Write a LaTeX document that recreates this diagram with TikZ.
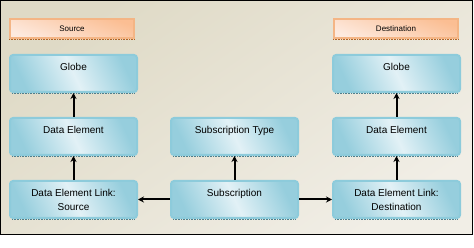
\documentclass[tikz,border=0pt]{standalone}
\usepackage{fontspec}
\setmainfont{Liberation Sans}
\usetikzlibrary{arrows.meta}

\definecolor{bgdark}{HTML}{DFDAC6}
\definecolor{bgpale}{HTML}{F1EEE6}
\definecolor{boxdark}{HTML}{96CEDD}
\definecolor{boxlight}{HTML}{E2F1F6}
\definecolor{boxline}{HTML}{8DCBDB}
\definecolor{boxdots}{HTML}{4F7F8C}
\definecolor{tagdark}{HTML}{FBBE93}
\definecolor{taglight}{HTML}{FDEADF}
\definecolor{tagline}{HTML}{F4B585}
\definecolor{tagdots}{HTML}{B06428}

\begin{document}
\begin{tikzpicture}[
    x=1pt, y=-1pt,
    entity/.style={draw=boxline, rounded corners=3pt, minimum width=127pt,
        minimum height=37pt, inner ysep=0pt, text height=8pt, text depth=13pt,
        align=center, font=\fontsize{10}{14}\selectfont,
        top color=boxdark, bottom color=boxdark, middle color=boxlight,
        shading angle=-65},
    link/.style={entity, text height=22pt, text depth=0pt},
    tag/.style={draw=tagline, minimum width=124pt, minimum height=19pt,
        inner sep=0pt, font=\fontsize{8}{10}\selectfont,
        top color=tagdark, bottom color=taglight, shading angle=-20},
    >={Stealth[length=6pt,width=6pt]}, line width=2pt
]
\useasboundingbox (0,0) rectangle (474,248);
\shade[top color=bgdark, bottom color=bgpale, shading angle=35] (0,0) rectangle (473,235);
\draw[line width=1pt] (0.5,0.5) rectangle (472.5,234.5);

\node[tag] (srctag) at (72,28.5) {Source};
\node[tag] (dsttag) at (396,28.5) {Destination};

\node[entity] (globeL) at (73.5,73.5) {Globe};
\node[entity] (elemL) at (73.5,136.5) {Data Element};
\node[link] (linkL) at (73.5,199.5) {Data Element Link:\\Source};

\node[entity] (subtype) at (234.5,136.5) {Subscription Type};
\node[entity] (sub) at (234.5,199.5) {Subscription};

\node[entity] (globeR) at (396.5,73.5) {Globe};
\node[entity] (elemR) at (396.5,136.5) {Data Element};
\node[link] (linkR) at (396.5,199.5) {Data Element Link:\\Destination};

% dotted lower edges
\foreach \n in {globeL,elemL,linkL,subtype,sub,globeR,elemR,linkR}
    \draw[densely dotted, line width=0.6pt, boxdots]
        ([xshift=3pt]\n.south west) -- ([xshift=-3pt]\n.south east);
\foreach \n in {srctag,dsttag}
    \draw[densely dotted, line width=0.6pt, tagdots]
        (\n.south west) -- (\n.south east);

\draw[->] (elemL) -- (globeL);
\draw[->] (linkL) -- (elemL);
\draw[->] (sub) -- (subtype);
\draw[->] (sub) -- (linkL);
\draw[->] (sub) -- (linkR);
\draw[->] (linkR) -- (elemR);
\draw[->] (elemR) -- (globeR);
\end{tikzpicture}
\end{document}
